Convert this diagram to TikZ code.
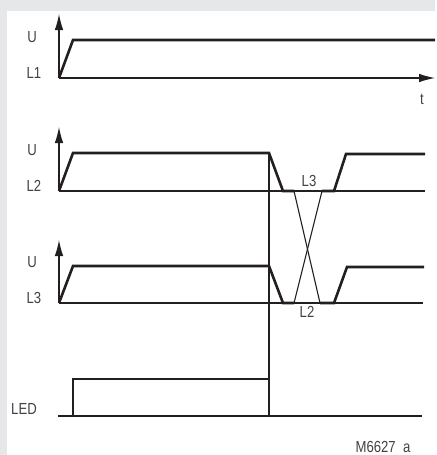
\documentclass[tikz,border=0pt]{standalone}
\usepackage{fontspec}
\setmainfont{Liberation Sans}[FakeStretch=0.82]
\usetikzlibrary{arrows.meta}
\definecolor{ink}{HTML}{231F20}
\definecolor{frame}{HTML}{E6E7E9}
\begin{document}
\begin{tikzpicture}[x=1pt,y=-1pt]
        \tikzstyle{axis}=[draw=ink, line width=1.1pt, -{Latex[length=16pt,width=8.5pt]}]
        \tikzstyle{base}=[draw=ink, line width=1.1pt]
        \tikzstyle{signal}=[draw=ink, line width=2.6pt, line join=miter]
        \tikzstyle{label}=[font=\fontsize{16}{16}\selectfont, text=ink!85, inner sep=0pt]

        \fill[frame] (0,0) rectangle (435,455);
        \fill[white] (7,11) rectangle (435,455);

       \begin{scope}
         % L1
         \coordinate (o1) at (59,78);
         \coordinate (u1) at (59,14);
         \coordinate (t1) at (435,78);
         \node [label] (lU1) at (32,37) {U};
         \node [label] (lL1) at (34,73) {L1};
         \node [label] (lt) at (422,99) {t};
         \path[axis] (o1) -- (u1);
         \path[axis] (o1) -- (t1);
         \path[signal] (o1) -- (73,40) -- (435,40);

         % L2
         \coordinate (o2) at (59,191);
         \coordinate (u2) at (59,127);
         \node [label] (lU2) at (32,150) {U};
         \node [label] (lL2) at (34,186) {L2};
         \path[axis] (o2) -- (u2);
         \path[base] (o2) -- (425,191);
         \coordinate (a2) at (294,191);
         \coordinate (b2) at (322,191);
         \path[signal] (o2) -- (73,153) -- (269,153) -- (283,191) -- (a2);
         \path[signal] (b2) -- (334,191) -- (346,154) -- (425,154);

         % L3
         \coordinate (o3) at (59,303);
         \coordinate (u3) at (59,240);
         \node [label] (lU3) at (32,262) {U};
         \node [label] (lL3) at (34,298) {L3};
         \path[axis] (o3) -- (u3);
         \path[base] (o3) -- (423,303);
         \coordinate (a3) at (294,303);
         \coordinate (b3) at (320,303);
         \path[signal] (o3) -- (73,266) -- (269,266) -- (283,303) -- (a3);
         \path[signal] (b3) -- (334,303) -- (347,267) -- (424,267);

         % phase swap
         \path[base] (a2) -- (b3);
         \path[base] (a3) -- (b2);
         \node [label] (sL3) at (309,181) {L3};
         \node [label] (sL2) at (307,312) {L2};

         % LED
         \coordinate (led0) at (58,416);
         \coordinate (led1) at (73,416);
         \coordinate (led2) at (269,416);
         \node [label] (lLED) at (24,409) {LED};
         \path[base] (led1) -- (led2);
         \path[base] (269,153) -- (led2);
         \path[signal] (led0) -- (led1) -- (73,379) -- (269,379) -- (led2) -- (422,416);

         \node [label] (code) at (383,447) {M6627\ \ a};
       \end{scope}
\end{tikzpicture}
\end{document}
